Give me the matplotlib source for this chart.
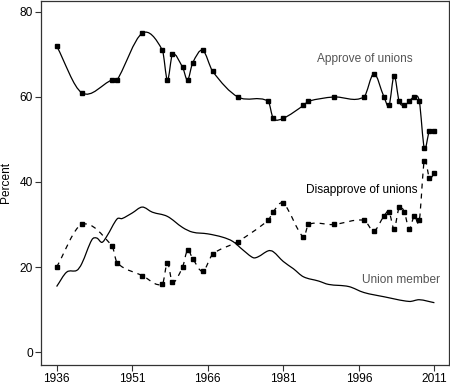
import numpy as np
import matplotlib
matplotlib.use("Agg")
import matplotlib.pyplot as plt
from matplotlib.path import Path
from matplotlib.patches import PathPatch

plt.rcParams['font.family'] = ['Liberation Sans', 'DejaVu Sans']

# survey years and percentages
survey_years = [1936, 1941, 1947, 1948, 1953, 1957, 1958, 1959, 1961, 1962, 1963,
                1965, 1967, 1972, 1978, 1979, 1981, 1985, 1986, 1991, 1997, 1999,
                2001, 2002, 2003, 2004, 2005, 2006, 2007, 2008, 2009, 2010, 2011]
approve = [72, 61, 64, 64, 75, 71, 64, 70, 67, 64, 68,
           71, 66, 60, 59, 55, 55, 58, 59, 60, 60, 65.5,
           60, 58, 65, 59, 58, 59, 60, 59, 48, 52, 52]
disapprove = [20, 30, 25, 21, 18, 16, 21, 16.4, 20, 24, 22,
              19, 23, 26, 31, 33, 35, 27, 30, 30, 31, 28.5,
              32, 33, 29, 34, 33, 29, 32, 31, 45, 41, 42]

member_years = [1936, 1938, 1940, 1941, 1943, 1944, 1945, 1946, 1948, 1949, 1951,
                1953, 1955, 1958, 1961, 1963, 1966, 1969, 1971, 1973, 1975, 1976,
                1978, 1979, 1981, 1983, 1985, 1988, 1990, 1994, 1997, 2001, 2006,
                2008, 2011]
member = [15.4, 18.8, 19.2, 20.8, 26.4, 26.8, 25.8, 27.3, 31.3, 31.4, 32.7,
          34.1, 32.9, 31.9, 29.3, 28.2, 27.8, 27.0, 26.0, 24.0, 22.2, 22.4,
          23.8, 23.6, 21.3, 19.6, 17.7, 16.7, 15.9, 15.4, 14.0, 13.0, 11.9,
          12.3, 11.6]

xticks = [1936, 1951, 1966, 1981, 1996, 2011]
yticks = [0, 20, 40, 60, 80]


def smooth_path(xs, ys):
    # cubic bezier through the points (hermite with finite-difference slopes)
    xs = np.asarray(xs, float)
    ys = np.asarray(ys, float)
    n = len(xs)
    m = np.zeros(n)
    m[0] = (ys[1] - ys[0]) / (xs[1] - xs[0])
    m[-1] = (ys[-1] - ys[-2]) / (xs[-1] - xs[-2])
    m[1:-1] = (ys[2:] - ys[:-2]) / (xs[2:] - xs[:-2])
    verts = [(xs[0], ys[0])]
    codes = [Path.MOVETO]
    for i in range(n - 1):
        h = xs[i + 1] - xs[i]
        verts += [(xs[i] + h / 3, ys[i] + m[i] * h / 3),
                  (xs[i + 1] - h / 3, ys[i + 1] - m[i + 1] * h / 3),
                  (xs[i + 1], ys[i + 1])]
        codes += [Path.CURVE4] * 3
    return Path(verts, codes)


fig = plt.figure(figsize=(4.5, 3.87), dpi=100)
ax = fig.add_axes([0.0911, 0.0568, 0.9067, 0.9419])

lw = 0.9
ax.add_patch(PathPatch(smooth_path(survey_years, approve), fill=False,
                       edgecolor='black', lw=lw))
ax.add_patch(PathPatch(smooth_path(survey_years, disapprove), fill=False,
                       edgecolor='black', lw=lw, linestyle=(0, (4, 4))))
ax.add_patch(PathPatch(smooth_path(member_years, member), fill=False,
                       edgecolor='black', lw=lw))

ax.plot(survey_years, approve, 's', color='black', ms=3)
ax.plot(survey_years, disapprove, 's', color='black', ms=3)

fs = 8.6
ax.text(1997.1, 68.9, 'Approve of unions', ha='center', va='center',
        fontsize=fs, color='#555555')
ax.text(1996.5, 38.0, 'Disapprove of unions', ha='center', va='center',
        fontsize=fs, color='black')
ax.text(2004.3, 16.9, 'Union member', ha='center', va='center',
        fontsize=fs, color='#555555')

ax.set_xlim(1932.9, 2013.9)
ax.set_ylim(-3.06, 82.7)
ax.set_xticks(xticks)
ax.set_yticks(yticks)
ax.tick_params(labelsize=fs, length=4, width=0.8, color='#333333', pad=2)
for s in ax.spines.values():
    s.set_color('#333333')
    s.set_linewidth(0.9)
ax.set_ylabel('Percent', fontsize=fs)
ax.yaxis.set_label_coords(-0.072, 0.5)

fig.savefig('out.png', dpi=100)
